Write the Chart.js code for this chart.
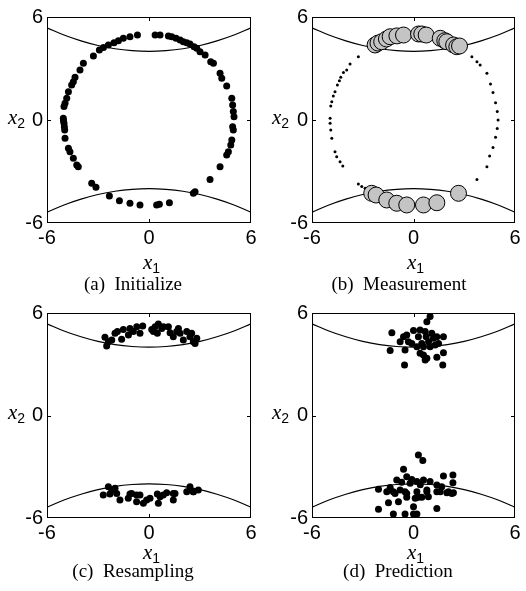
<!DOCTYPE html>
<html>
<head>
<meta charset="utf-8">
<script src="https://cdn.jsdelivr.net/npm/chart.js@4"></script>
<style>
  body { margin: 0; background: #fff; }
  #wrap { position: relative; width: 526px; height: 591px; overflow: hidden; }
  canvas { position: absolute; }
  .lab { position: absolute; font-family: "Liberation Serif", "Times New Roman", serif; font-size: 21px; color: #000; white-space: nowrap; }
  .lab i { font-style: italic; }
  .lab sub { font-family: "Liberation Sans", Arial, sans-serif; font-style: normal; font-size: 14px; vertical-align: -4px; }
  .cap { position: absolute; font-family: "Liberation Serif", "Times New Roman", serif; font-size: 19px; color: #000; white-space: nowrap; transform: translateX(-50%); }
</style>
</head>
<body>
<div id="wrap">
  <canvas id="chartA" width="263" height="300" style="left:0;top:0"></canvas>
  <canvas id="chartB" width="263" height="300" style="left:263px;top:0"></canvas>
  <canvas id="chartC" width="263" height="295" style="left:0;top:296px"></canvas>
  <canvas id="chartD" width="263" height="295" style="left:263px;top:296px"></canvas>

  <div class="lab" style="left:8px;top:105px"><i>x</i><sub>2</sub></div>
  <div class="lab" style="left:272px;top:105px"><i>x</i><sub>2</sub></div>
  <div class="lab" style="left:8px;top:400px"><i>x</i><sub>2</sub></div>
  <div class="lab" style="left:272px;top:400px"><i>x</i><sub>2</sub></div>

  <div class="lab" style="left:143px;top:250px"><i>x</i><sub>1</sub></div>
  <div class="lab" style="left:407px;top:250px"><i>x</i><sub>1</sub></div>
  <div class="lab" style="left:143px;top:540px"><i>x</i><sub>1</sub></div>
  <div class="lab" style="left:407px;top:540px"><i>x</i><sub>1</sub></div>

  <div class="cap" style="left:133px;top:273px">(a)&nbsp; Initialize</div>
  <div class="cap" style="left:399px;top:273px">(b)&nbsp; Measurement</div>
  <div class="cap" style="left:133px;top:560px">(c)&nbsp; Resampling</div>
  <div class="cap" style="left:398px;top:560px">(d)&nbsp; Prediction</div>
</div>
<script>
// measurement boundary curves
const curveX = [-6, -5, -4, -3, -2, -1, 0, 1, 2, 3, 4, 5, 6];
const upperCurveY = [5.37, 4.95, 4.61, 4.34, 4.15, 4.04, 4.0, 4.04, 4.15, 4.34, 4.61, 4.95, 5.37];
const lowerCurveY = [-5.37, -4.95, -4.61, -4.34, -4.15, -4.04, -4.0, -4.04, -4.15, -4.34, -4.61, -4.95, -5.37];
const axisTicks = [-6, 0, 6];

// (a) initial particles on the ring
const initPoints = [
  [-0.68, 4.95], [-1.12, 4.85], [-1.51, 4.76], [-1.80, 4.62], [-2.06, 4.50], [-2.39, 4.37],
  [-2.68, 4.23], [-2.92, 4.08], [-3.27, 3.73], [-3.86, 3.30], [-4.06, 2.91], [-4.35, 2.49],
  [-4.45, 2.23], [-4.55, 2.04], [-4.74, 1.65], [-4.84, 1.26], [-4.94, 0.97], [-5.00, 0.78],
  [-5.04, 0.10], [-5.03, -0.05], [-5.00, -0.19], [-4.98, -0.40], [-4.96, -0.58], [-4.94, -1.07],
  [-4.74, -1.65], [-4.65, -1.85], [-4.45, -2.23], [-4.25, -2.62], [-4.16, -2.72], [-3.37, -3.69],
  [-3.12, -3.92], [-2.33, -4.43], [-1.74, -4.70], [-1.12, -4.85], [-0.53, -4.95], [0.45, -4.95],
  [0.61, -4.91], [1.20, -4.82], [2.61, -4.27], [2.71, -4.18], [3.59, -3.46], [4.18, -2.72],
  [4.57, -2.04], [4.67, -1.85], [4.81, -1.46], [4.87, -1.17], [4.96, -0.58], [4.92, -0.39],
  [5.00, 0.19], [4.96, 0.49], [4.92, 0.87], [4.87, 1.26], [4.57, 1.98], [4.28, 2.43],
  [4.18, 2.72], [3.79, 3.30], [3.63, 3.40], [3.30, 3.79], [3.00, 3.98], [2.81, 4.18],
  [2.65, 4.27], [2.41, 4.43], [2.22, 4.50], [2.02, 4.56], [1.83, 4.66], [1.59, 4.76],
  [1.34, 4.85], [1.14, 4.89], [0.65, 4.95], [0.36, 4.95]
];

// (b) weighted particles: heavy ones (large grey) and light ones (small black)
const heavyPoints = [
  [-2.47, -4.27], [-2.21, -4.37], [-1.58, -4.66], [-0.99, -4.85], [-0.40, -4.95], [0.59, -4.95],
  [1.38, -4.82], [2.66, -4.27],
  [-2.27, 4.37], [-2.10, 4.48], [-1.88, 4.56], [-1.60, 4.72], [-1.38, 4.85], [-0.98, 4.90],
  [-0.59, 4.95], [0.30, 5.01], [0.49, 5.01], [0.75, 4.95], [1.58, 4.76], [1.85, 4.62],
  [1.97, 4.56], [2.37, 4.37], [2.56, 4.27], [2.72, 4.31]
];
const lightPoints = [
  [-3.26, 3.69], [-3.75, 3.26], [-3.95, 2.91], [-4.14, 2.76], [-4.30, 2.49], [-4.38, 2.29],
  [-4.50, 2.04], [-4.64, 1.65], [-4.74, 1.40], [-4.83, 1.07], [-4.89, 0.82], [-4.93, 0.10],
  [-4.93, -0.19], [-4.89, -0.58], [-4.83, -1.07], [-4.64, -1.85], [-4.54, -2.14], [-4.34, -2.43],
  [-4.18, -2.68], [-3.26, -3.73], [-3.06, -3.88], [-2.86, -3.98], [3.45, 3.69], [3.75, 3.40],
  [3.94, 3.20], [4.34, 2.72], [4.55, 2.10], [4.70, 1.60], [4.85, 1.00], [4.95, 0.50],
  [5.00, 0.00], [4.95, -0.50], [4.85, -1.00], [4.70, -1.60], [4.50, -2.10], [4.34, -2.72],
  [3.75, -3.46]
];

// (c) resampled particles
const resampledPoints = [
  [-2.59, 4.58], [-2.39, 4.32], [-2.49, 4.07], [-2.19, 4.42], [-2.00, 4.81], [-1.86, 4.91],
  [-1.61, 4.46], [-1.51, 5.04], [-1.21, 4.71], [-1.12, 5.10], [-0.92, 4.91], [-0.72, 5.20],
  [-0.53, 4.81], [-0.37, 5.24], [0.16, 5.04], [0.36, 5.20], [0.55, 5.36], [0.49, 4.81],
  [0.75, 5.10], [0.85, 5.20], [1.14, 5.20], [1.24, 4.85], [1.43, 4.61], [1.63, 4.91],
  [1.73, 5.10], [1.83, 4.81], [2.02, 4.42], [2.22, 4.91], [2.41, 4.61], [2.61, 4.32],
  [2.71, 4.22], [2.81, 4.52], [2.51, 4.81], [0.26, 4.91],
  [-2.69, -4.66], [-2.30, -4.60], [-1.90, -4.56], [-1.71, -4.95], [-1.22, -4.85], [-1.02, -4.56],
  [-0.73, -4.66], [-0.73, -5.05], [-0.33, -5.14], [-0.14, -4.95], [0.06, -4.85], [0.55, -5.14],
  [0.65, -4.75], [0.84, -4.66], [1.43, -4.56], [1.43, -4.95], [2.22, -4.46], [2.61, -4.46],
  [2.90, -4.36], [-2.39, -4.17], [-2.19, -4.36], [-2.00, -4.26], [2.41, -4.17], [2.61, -4.46],
  [-1.12, -4.59], [-0.53, -4.65], [0.49, -4.59], [1.04, -4.52], [1.53, -4.56]
];

// (d) predicted particles
const predictedPoints = [
  [-1.28, 4.85], [-1.38, 3.80], [-0.79, 4.32], [-0.59, 4.61], [-0.50, 3.83], [-0.40, 4.71],
  [-0.30, 4.32], [-0.53, 2.96], [0.00, 4.97], [0.29, 4.61], [0.39, 5.00], [0.49, 4.22],
  [0.59, 4.03], [0.69, 4.91], [0.79, 5.49], [0.75, 4.61], [0.89, 4.32], [0.98, 5.79],
  [1.08, 4.81], [0.98, 4.03], [0.59, 3.54], [0.79, 3.35], [0.69, 3.25], [1.18, 4.52],
  [1.28, 4.13], [1.38, 4.61], [1.48, 4.22], [1.77, 4.61], [1.77, 3.68], [1.38, 3.41],
  [1.73, 2.96], [0.39, 3.64], [0.20, 4.03], [-0.10, 4.22],
  [0.29, -2.31], [0.55, -2.64], [-0.59, -3.15], [-0.99, -3.78], [-0.40, -3.58], [-0.20, -3.97],
  [0.20, -3.87], [0.59, -3.78], [0.98, -3.87], [1.38, -4.07], [1.77, -3.54], [2.33, -3.48],
  [2.33, -3.93], [-2.07, -4.32], [-1.38, -4.21], [-1.19, -4.46], [-0.79, -4.36], [-0.40, -4.56],
  [0.20, -4.46], [0.79, -4.36], [1.38, -4.46], [1.97, -4.52], [2.36, -4.52], [1.67, -4.17],
  [-2.07, -5.49], [-1.19, -5.77], [-0.50, -5.77], [0.00, -5.77], [0.20, -5.77], [0.00, -5.34],
  [1.38, -5.44], [-1.48, -5.10], [-0.89, -5.05], [-0.40, -4.79], [0.29, -4.79], [0.88, -4.75],
  [-1.58, -4.46], [-1.09, -4.56], [-0.50, -4.46], [0.79, -4.46], [1.58, -4.46], [2.27, -4.56],
  [2.07, -4.46], [0.10, -4.85], [0.49, -4.79], [-0.70, -3.90], [-0.10, -3.75], [0.40, -4.05]
];

const toXY = pts => pts.map(p => ({ x: p[0], y: p[1] }));
const curveData = ys => curveX.map((x, i) => ({ x: x, y: ys[i] }));

const framePlugin = {
  id: 'frame',
  afterDatasetsDraw(chart) {
    const { ctx, chartArea: a, scales } = chart;
    const x0 = Math.round(scales.x.getPixelForValue(0)) + 0.5;
    const y0 = Math.round(scales.y.getPixelForValue(0)) + 0.5;
    ctx.save();
    ctx.strokeStyle = '#000';
    ctx.lineWidth = 1;
    ctx.strokeRect(a.left + 0.5, a.top + 0.5, a.right - a.left - 1, a.bottom - a.top - 1);
    ctx.beginPath();
    ctx.moveTo(x0, a.bottom); ctx.lineTo(x0, a.bottom - 4);
    ctx.moveTo(x0, a.top); ctx.lineTo(x0, a.top + 4);
    ctx.moveTo(a.left, y0); ctx.lineTo(a.left + 4, y0);
    ctx.moveTo(a.right, y0); ctx.lineTo(a.right - 4, y0);
    ctx.stroke();
    ctx.restore();
  }
};

function curveSet(ys) {
  return {
    data: curveData(ys),
    showLine: true,
    borderColor: '#000',
    borderWidth: 1.2,
    pointRadius: 0,
    tension: 0.4
  };
}

function makePanel(id, pointSets, layout) {
  const ctx = document.getElementById(id).getContext('2d');
  return new Chart(ctx, {
    type: 'scatter',
    data: { datasets: pointSets.concat([curveSet(upperCurveY), curveSet(lowerCurveY)]) },
    options: {
      responsive: false,
      animation: false,
      events: [],
      layout: { padding: { left: 0, top: layout.top, right: layout.right, bottom: 0 } },
      plugins: { legend: { display: false }, tooltip: { enabled: false } },
      scales: {
        x: {
          min: -6, max: 6,
          afterBuildTicks: s => { s.ticks = axisTicks.map(v => ({ value: v })); },
          afterFit: s => { s.height = layout.xHeight; },
          grid: { display: false, drawTicks: false },
          border: { display: false },
          ticks: { color: '#000', padding: 3, maxRotation: 0, font: { family: "'Liberation Sans', Arial, sans-serif", size: 20 } }
        },
        y: {
          min: -6, max: 6,
          afterBuildTicks: s => { s.ticks = axisTicks.map(v => ({ value: v })); },
          afterFit: s => { s.width = layout.yWidth; },
          grid: { display: false, drawTicks: false },
          border: { display: false },
          ticks: { color: '#000', padding: 4, font: { family: "'Liberation Sans', Arial, sans-serif", size: 20 } }
        }
      }
    },
    plugins: [framePlugin]
  });
}

const dot = (pts, r) => ({
  data: toXY(pts), pointRadius: r, pointBackgroundColor: '#000', pointBorderWidth: 0, borderColor: '#000'
});

makePanel('chartA', [dot(initPoints, 3.5)], { top: 17, right: 12, xHeight: 77, yWidth: 47 });
makePanel('chartB', [
  { data: toXY(heavyPoints), pointRadius: 8, pointBackgroundColor: '#c4c4c4', pointBorderColor: '#000', pointBorderWidth: 1 },
  dot(lightPoints, 1.5)
], { top: 17, right: 11, xHeight: 77, yWidth: 49 });
makePanel('chartC', [dot(resampledPoints, 3.5)], { top: 17, right: 12, xHeight: 73, yWidth: 47 });
makePanel('chartD', [dot(predictedPoints, 3.5)], { top: 17, right: 11, xHeight: 73, yWidth: 49 });
</script>
</body>
</html>
